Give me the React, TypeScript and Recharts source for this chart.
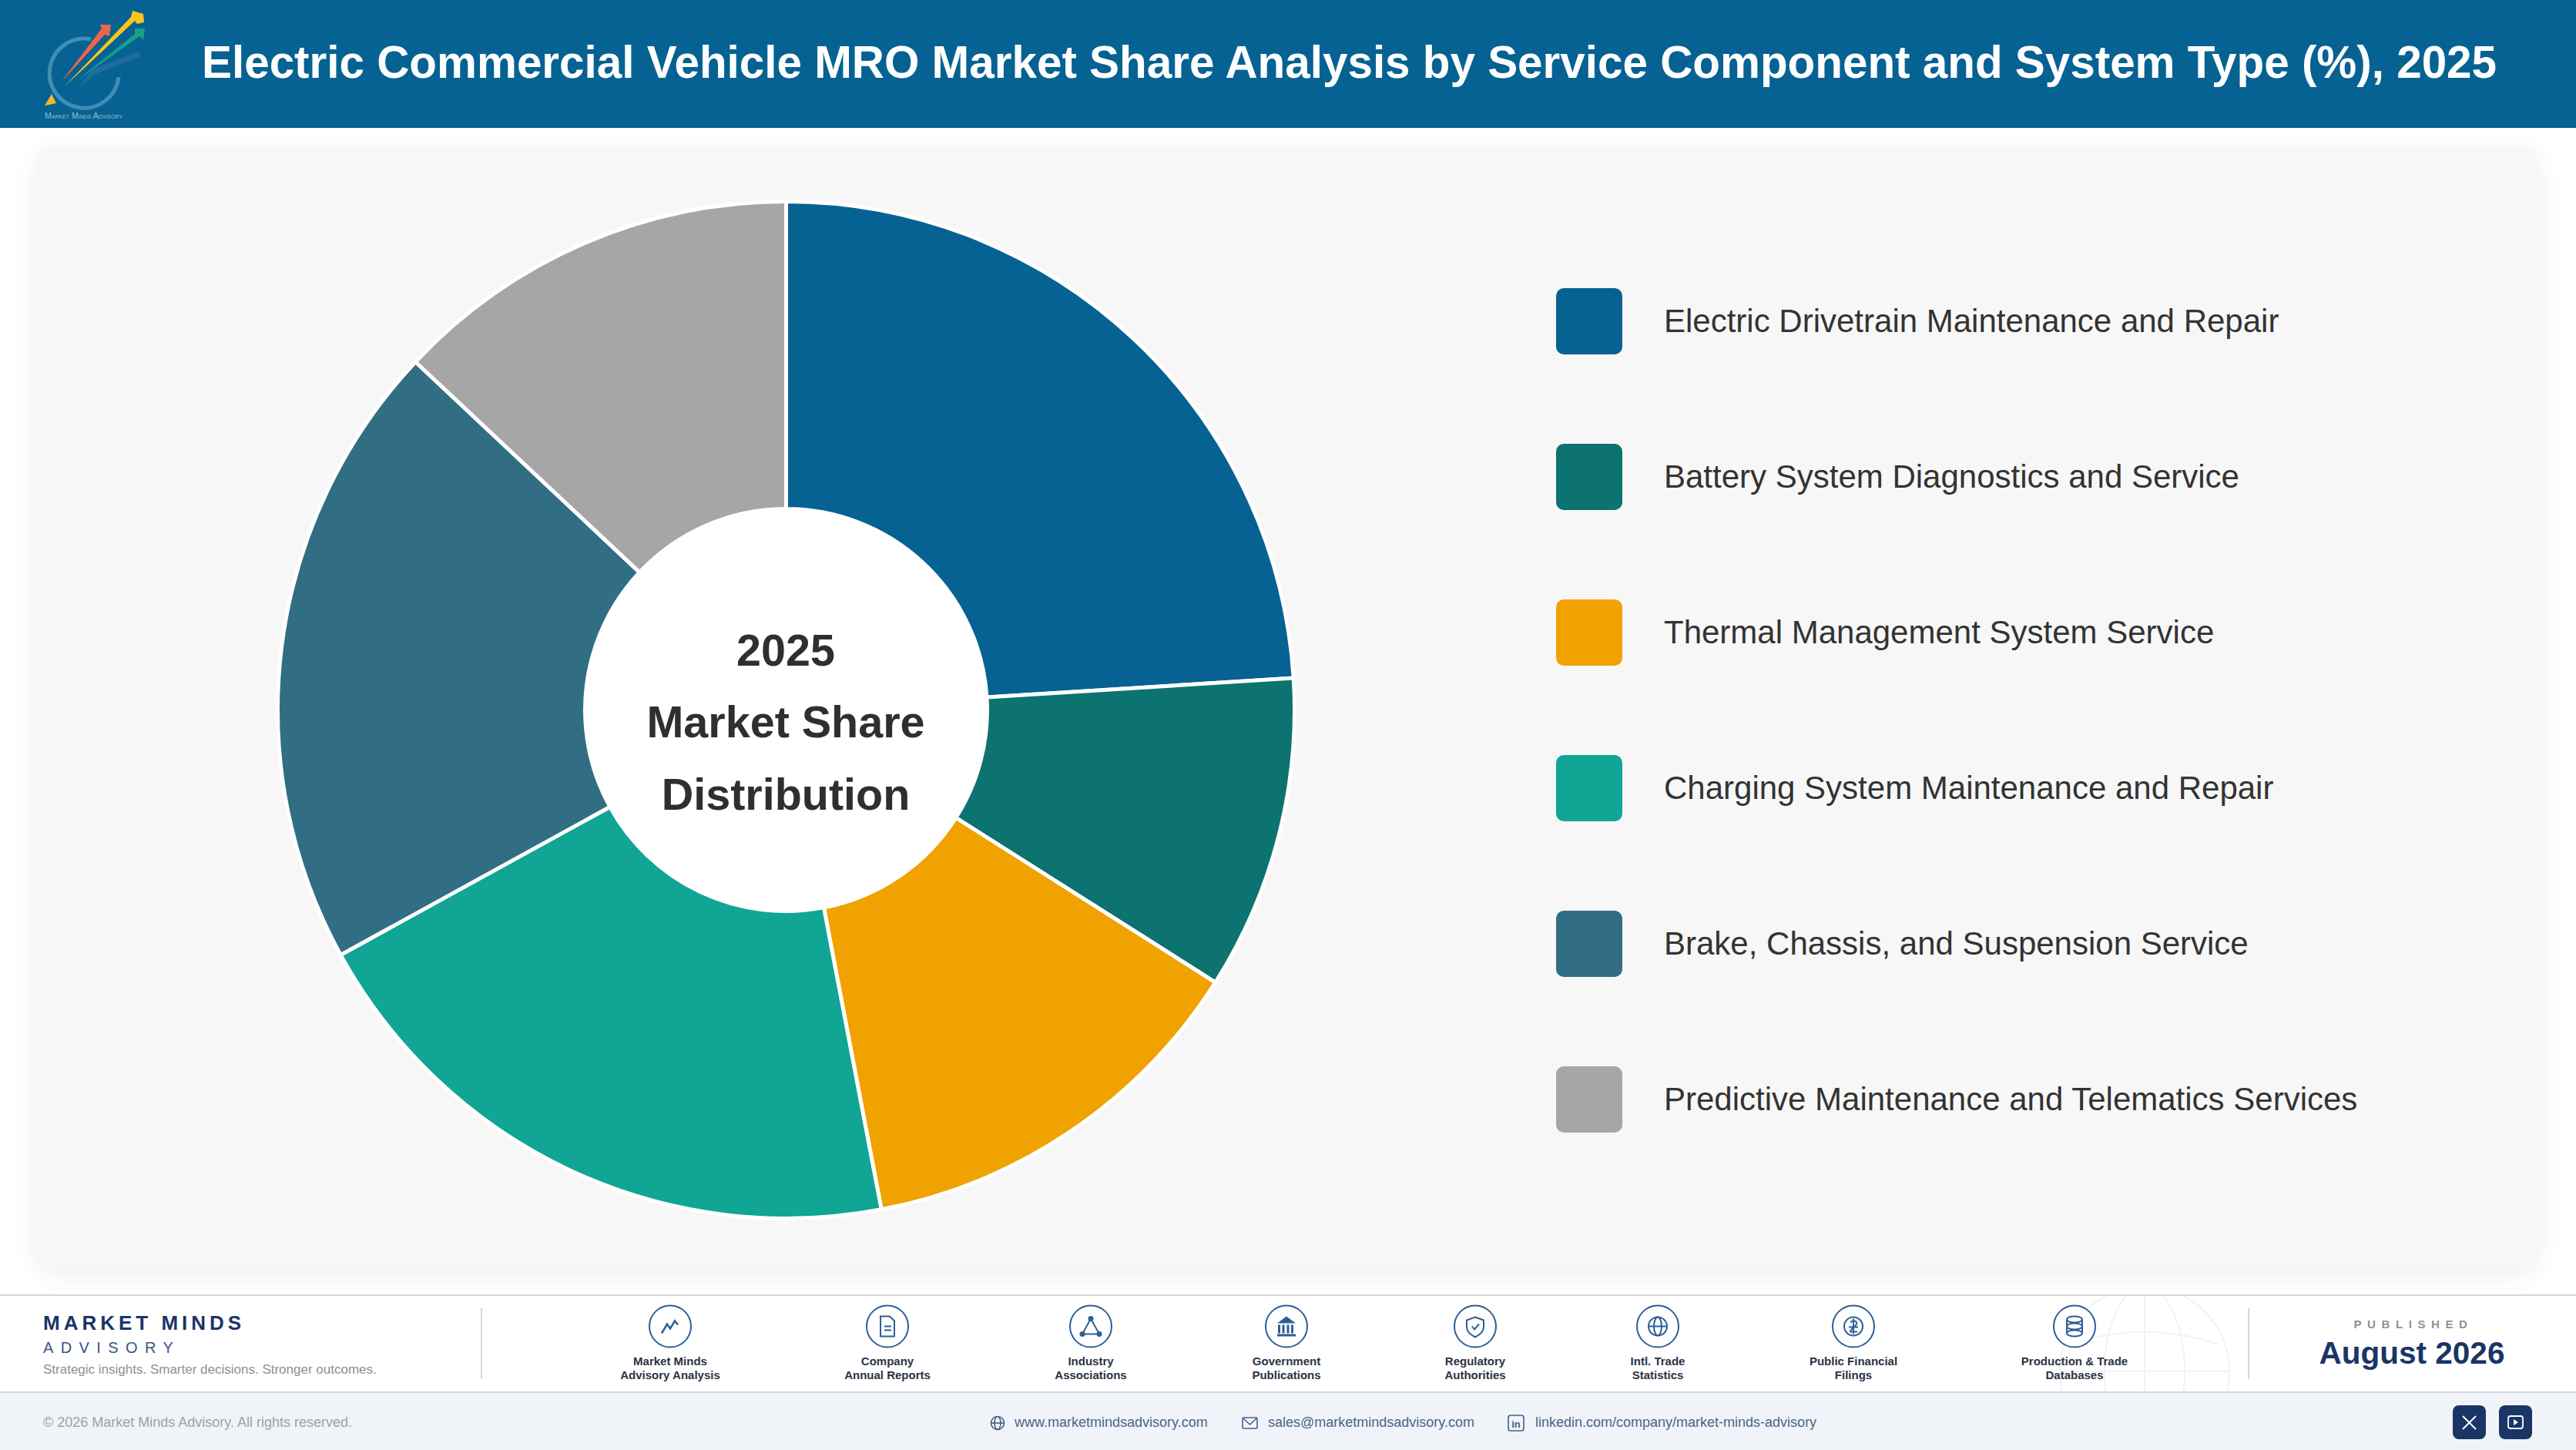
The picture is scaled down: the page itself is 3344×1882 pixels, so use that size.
import { Cell, Pie, PieChart } from "recharts"

const categories = [
  "Electric Drivetrain Maintenance and Repair",
  "Battery System Diagnostics and Service",
  "Thermal Management System Service",
  "Charging System Maintenance and Repair",
  "Brake, Chassis, and Suspension Service",
  "Predictive Maintenance and Telematics Services",
]
const shares = [24, 10, 13, 20, 20, 13]
const colors = ["#066293", "#0c7370", "#f0a200", "#10a594", "#316e84", "#a6a6a6"]

const centerLines = ["2025", "Market Share", "Distribution"]

const sources = [
  ["Market Minds", "Advisory Analysis"],
  ["Company", "Annual Reports"],
  ["Industry", "Associations"],
  ["Government", "Publications"],
  ["Regulatory", "Authorities"],
  ["Intl. Trade", "Statistics"],
  ["Public Financial", "Filings"],
  ["Production & Trade", "Databases"],
]
const sourceX = [870, 1152, 1416, 1670, 1915, 2152, 2406, 2693]

const chartData = categories.map((name, i) => ({ name, value: shares[i] }))

const FONT = "'Liberation Sans', Arial, sans-serif"
const ICON = "#2d5f96"

function SourceIcon({ index }: { index: number }) {
  const common = { fill: "none", stroke: ICON, strokeWidth: 2 }
  switch (index) {
    case 0:
      return <path d="M-11 9 L-4 -3 L0 3 L6 -7 L10 -2" {...common} strokeWidth={2.5} />
    case 1:
      return (
        <g {...common}>
          <path d="M-9 -13 H3 L9 -7 V13 H-9 Z" />
          <path d="M-4 0 H5 M-4 5 H5" />
        </g>
      )
    case 2:
      return (
        <g {...common}>
          <path d="M0 -10 L-11 10 H11 Z" />
          <circle cx={0} cy={-10} r={2.5} fill={ICON} />
          <circle cx={-11} cy={10} r={2.5} fill={ICON} />
          <circle cx={11} cy={10} r={2.5} fill={ICON} />
        </g>
      )
    case 3:
      return (
        <g fill={ICON}>
          <path d="M0 -13 L12 -4 H-12 Z" />
          <rect x={-11} y={-2} width={3} height={11} />
          <rect x={-5.5} y={-2} width={3} height={11} />
          <rect x={0.5} y={-2} width={3} height={11} />
          <rect x={6} y={-2} width={3} height={11} />
          <rect x={-12} y={10} width={24} height={3} />
        </g>
      )
    case 4:
      return (
        <g {...common}>
          <path d="M0 -12 L11 -8 V1 C11 7 6 11 0 14 C-6 11 -11 7 -11 1 V-8 Z" />
          <path d="M-4 0 L-1 4 L5 -3" />
        </g>
      )
    case 5:
      return (
        <g {...common}>
          <circle cx={0} cy={0} r={12} />
          <ellipse cx={0} cy={0} rx={5} ry={12} />
          <path d="M-12 0 H12" />
        </g>
      )
    case 6:
      return (
        <g {...common}>
          <circle cx={0} cy={0} r={12} />
          <path d="M-4 -5 C-1 -9 5 -7 4 -3 C3 1 -4 3 -4 7 H5 M-6 1 H6 M0 -10 V10" />
        </g>
      )
    default:
      return (
        <g {...common}>
          <ellipse cx={0} cy={-9} rx={10} ry={4} />
          <ellipse cx={0} cy={0} rx={10} ry={4} />
          <ellipse cx={0} cy={9} rx={10} ry={4} />
          <path d="M-10 -9 V9 M10 -9 V9" />
        </g>
      )
  }
}

function Logo() {
  return (
    <svg width={220} height={166} style={{ position: "absolute", left: 0, top: 0 }}>
      <path d="M118 51 A45 45 0 1 0 154 100" fill="none" stroke="#3f8fb5" strokeWidth={5} />
      <polygon points="67,122 58,137 73,134" fill="#fbb62a" />
      <polygon points="180,67 120,90 100,115 124,96 182,74" fill="#1f6ca0" />
      <polygon points="144,32 130,32 132,37 79,107 136,45 142,47" fill="#ef6449" />
      <polygon points="172,14 186,18 187,29 178,31 175,27 83,113 170,22" fill="#fdc51a" />
      <polygon points="175,37 188,37 186,52 181,47 97,107 175,44" fill="#17a085" />
      <text x={58} y={154} fontFamily={FONT} fontSize={10.5} fill="#9dbdcf" style={{ fontVariant: "small-caps" }}>
        Market Minds Advisory
      </text>
    </svg>
  )
}

function Footer() {
  return (
    <svg
      width={3344}
      height={202}
      viewBox="0 1680 3344 202"
      style={{ position: "absolute", left: 0, top: 1680 }}
      fontFamily={FONT}
    >
      <rect x={0} y={1680} width={3344} height={127} fill="#ffffff" />
      <rect x={0} y={1807} width={3344} height={75} fill="#f0f4f9" />
      <defs>
        <clipPath id="band">
          <rect x={0} y={1682} width={3344} height={125} />
        </clipPath>
      </defs>
      <g clipPath="url(#band)" fill="none" stroke="#f1f2f6" strokeWidth={2}>
        <circle cx={2784} cy={1780} r={110} />
        <ellipse cx={2784} cy={1780} rx={52} ry={110} />
        <path d="M2674 1780 H2894 M2784 1670 V1890 M2688 1745 Q2784 1712 2880 1745" />
      </g>
      <rect x={0} y={1680} width={3344} height={2} fill="#d3d6e4" />
      <rect x={0} y={1806} width={3344} height={2} fill="#d3d6e4" />

      <text x={56} y={1726} fontSize={26} fontWeight={700} fill="#1a3566" letterSpacing={5}>
        MARKET MINDS
      </text>
      <text x={56} y={1756} fontSize={20} fill="#3a5680" letterSpacing={9.4}>
        ADVISORY
      </text>
      <text x={56} y={1783} fontSize={17} fill="#8c9097">
        Strategic insights. Smarter decisions. Stronger outcomes.
      </text>
      <rect x={624} y={1698} width={2} height={92} fill="#d3d6dc" />

      {sources.map((lines, i) => (
        <g key={lines[0]}>
          <g transform={`translate(${sourceX[i]} 1721.5)`}>
            <circle cx={0} cy={0} r={27} fill="#ffffff" stroke={ICON} strokeWidth={2} />
            <SourceIcon index={i} />
          </g>
          <text textAnchor="middle" fontSize={15} fontWeight={700} fill="#2b3244">
            <tspan x={sourceX[i]} y={1772}>{lines[0]}</tspan>
            <tspan x={sourceX[i]} y={1790}>{lines[1]}</tspan>
          </text>
        </g>
      ))}

      <rect x={2918} y={1698} width={2} height={92} fill="#d3d6dc" />
      <text x={3133} y={1724} textAnchor="middle" fontSize={15} fontWeight={700} fill="#8e9299" letterSpacing={7.6}>
        PUBLISHED
      </text>
      <text x={3131} y={1770} textAnchor="middle" fontSize={40.5} fontWeight={700} fill="#1a3566">
        August 2026
      </text>

      <text x={56} y={1852} fontSize={18} fill="#9aa3ad">
        © 2026 Market Minds Advisory. All rights reserved.
      </text>

      <g fill="none" stroke="#456085" strokeWidth={1.6}>
        <circle cx={1295} cy={1847} r={8.5} />
        <ellipse cx={1295} cy={1847} rx={4} ry={8.5} />
        <path d="M1286.5 1847 H1303.5" />
        <rect x={1613} y={1840} width={19} height={14} rx={1.5} />
        <path d="M1614 1841 L1622.5 1849 L1631 1841" />
        <rect x={1958} y={1837} width={20} height={20} rx={3} />
      </g>
      <text x={1968} y={1853} textAnchor="middle" fontSize={13} fontWeight={700} fill="#456085">
        in
      </text>
      <text x={1317} y={1852} fontSize={18} fill="#4a6488">
        www.marketmindsadvisory.com
      </text>
      <text x={1646} y={1852} fontSize={18} fill="#4a6488">
        sales@marketmindsadvisory.com
      </text>
      <text x={1993} y={1852} fontSize={18} fill="#4a6488">
        linkedin.com/company/market-minds-advisory
      </text>

      <rect x={3184} y={1824} width={43} height={44} rx={8} fill="#1a3566" />
      <path d="M3197 1838 L3214 1855 M3214 1838 L3197 1855" stroke="#ffffff" strokeWidth={2} />
      <rect x={3244} y={1824} width={43} height={44} rx={8} fill="#1a3566" />
      <rect x={3256} y={1838} width={19} height={16} rx={3} fill="none" stroke="#ffffff" strokeWidth={1.8} />
      <path d="M3263 1842 L3269 1846 L3263 1850 Z" fill="#ffffff" />
    </svg>
  )
}

export default function App() {
  return (
    <div style={{ position: "fixed", left: 0, top: 0, width: 3344, height: 1882, overflow: "hidden", background: "#fff", fontFamily: FONT }}>
      <style>{"html,body{margin:0;padding:0;background:#fff}"}</style>
      <div style={{ position: "absolute", left: 0, top: 0, width: 3344, height: 166, background: "#066293" }} />
      <Logo />
      <div
        style={{
          position: "absolute",
          left: 262,
          top: 46,
          fontSize: 58.4,
          lineHeight: "69px",
          fontWeight: 700,
          color: "#fff",
          whiteSpace: "nowrap",
        }}
      >
        Electric Commercial Vehicle MRO Market Share Analysis by Service Component and System Type (%), 2025
      </div>

      <div
        style={{
          position: "absolute",
          left: 47,
          top: 190,
          width: 3249,
          height: 1458,
          background: "#f7f7f7",
          borderRadius: 28,
          boxShadow: "0 6px 32px rgba(0,0,0,0.07)",
        }}
      />

      <div style={{ position: "absolute", left: 300, top: 201 }}>
        <PieChart width={1440} height={1440} margin={{ top: 0, right: 0, bottom: 0, left: 0 }}>
          <Pie
            data={chartData}
            dataKey="value"
            nameKey="name"
            cx={720.5}
            cy={720.5}
            startAngle={90}
            endAngle={-270}
            innerRadius={261}
            outerRadius={660}
            stroke="#ffffff"
            strokeWidth={5}
            isAnimationActive={false}
          >
            {chartData.map((d, i) => (
              <Cell key={d.name} fill={colors[i]} />
            ))}
          </Pie>
        </PieChart>
      </div>
      <div
        style={{
          position: "absolute",
          left: 1020.5 - 261,
          top: 921.5 - 261,
          width: 522,
          height: 522,
          borderRadius: "50%",
          background: "#fff",
        }}
      />
      {centerLines.map((line, i) => (
        <div
          key={line}
          style={{
            position: "absolute",
            left: 720,
            width: 600,
            top: 808.5 + i * 93.5,
            textAlign: "center",
            fontSize: 57.5,
            lineHeight: "70px",
            fontWeight: 700,
            color: "#2f2f2f",
          }}
        >
          {line}
        </div>
      ))}

      {categories.map((name, i) => (
        <div key={name}>
          <div
            style={{
              position: "absolute",
              left: 2020,
              top: 374 + i * 202,
              width: 86,
              height: 86,
              borderRadius: 10,
              background: colors[i],
            }}
          />
          <div
            style={{
              position: "absolute",
              left: 2160,
              top: 391 + i * 202,
              fontSize: 42,
              lineHeight: "52px",
              color: "#333",
              whiteSpace: "nowrap",
            }}
          >
            {name}
          </div>
        </div>
      ))}

      <Footer />
    </div>
  )
}
